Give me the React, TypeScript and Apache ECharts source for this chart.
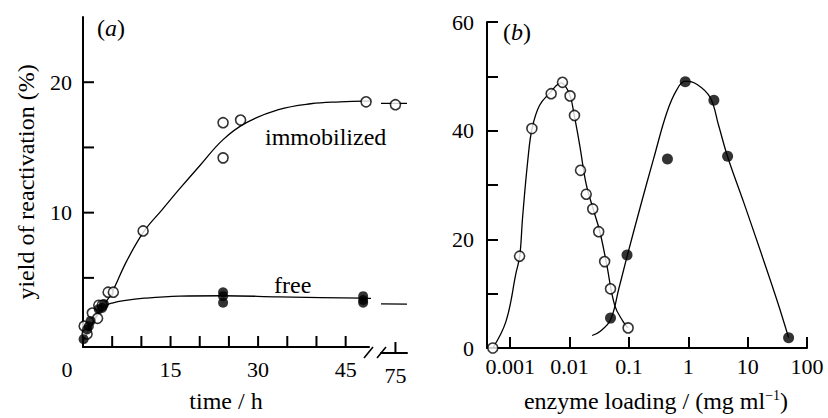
import React, { useEffect, useRef } from 'react';
import * as echarts from 'echarts';

// ---------- Panel (a): yield of reactivation vs time ----------
const timeImmobilized = [0.2, 0.7, 1.6, 2.5, 2.7, 3.3, 4.3, 5.2, 10.3, 24, 24, 27, 48.5, 75];
const yieldImmobilized = [1.3, 0.7, 2.3, 1.9, 2.9, 2.9, 3.9, 3.9, 8.6, 16.9, 14.2, 17.1, 18.5, 18.4];
const timeFree = [0.1, 0.7, 1.0, 1.3, 2.7, 3.3, 3.6, 24, 24, 24, 48, 48, 48];
const yieldFree = [0.3, 1.05, 1.3, 1.7, 2.6, 2.7, 3.0, 3.9, 3.6, 3.1, 3.6, 3.3, 3.1];

// fitted curves (the last points bridge the axis break)
const fitImmobT = [0, 1, 2, 3, 4, 5, 7.5, 10.5, 13.5, 16.5, 20, 24, 28, 33.5, 39, 44, 48, 51, 72.5, 77];
const fitImmobY = [0.2, 1.0, 1.8, 2.6, 3.2, 3.9, 6.3, 8.6, 10.2, 11.8, 13.6, 15.6, 16.9, 17.9, 18.35, 18.5, 18.55, 18.55, 18.5, 18.5];
const fitFreeT = [0, 1, 2, 3, 4, 5, 7, 10.5, 16.5, 24, 33.5, 48, 51, 72.5, 77];
const fitFreeY = [0.2, 1.0, 1.8, 2.5, 2.9, 3.07, 3.25, 3.44, 3.6, 3.63, 3.55, 3.44, 3.43, 3.4, 3.38];

// time axis is broken: first segment 0–49 h, second segment 72.5–77 h
const timeSeg1 = [0, 49];
const timeSeg2 = [72.5, 77];
const yRangeA = [-0.3, 25];
const xTicksA = [5, 10, 15, 20, 25, 30, 35, 40, 45, 75];
const xLabelStepA = 15;
const yTicksA = [5, 10, 15, 20];
const yLabelStepA = 10;

// ---------- Panel (b): yield vs enzyme loading ----------
const loadingOpen = [0.00051, 0.00144, 0.00232, 0.0049, 0.0076, 0.0102, 0.0121, 0.0153, 0.0191, 0.0246, 0.031, 0.039, 0.049, 0.097];
const yieldOpen = [0, 16.9, 40.4, 46.8, 48.9, 46.4, 42.8, 32.7, 28.3, 25.6, 21.4, 15.9, 10.9, 3.7];
const loadingFilled = [0.049, 0.093, 0.446, 0.89, 2.7, 4.6, 49];
const yieldFilled = [5.5, 17.1, 34.8, 49.0, 45.6, 35.3, 1.9];

const fitOpenX = [0.00051, 0.00085, 0.00126, 0.00145, 0.00162, 0.002, 0.00234, 0.0031, 0.0047, 0.0072, 0.01, 0.012, 0.0148, 0.0191, 0.0245, 0.0324, 0.0417, 0.0575, 0.0794, 0.0966];
const fitOpenY = [0, 4.9, 13.9, 16.9, 24.1, 35, 40.4, 44.6, 47, 48.8, 46.7, 42.8, 37.4, 30.1, 25.9, 21.4, 15.7, 7.9, 4.9, 3.7];
const fitFilledX = [0.024, 0.033, 0.049, 0.0676, 0.0933, 0.155, 0.263, 0.437, 0.646, 0.891, 1.41, 2.34, 3.24, 4.57, 8.59, 16.6, 31.6, 49];
const fitFilledY = [2.3, 3.1, 5.2, 10.9, 16.9, 25.9, 35, 43.4, 47.6, 49.1, 48.5, 46.1, 41, 35.3, 26.8, 17.7, 8.6, 1.9];

const loadingRange = [0.000407, 100];
const yRangeB = [0, 60];
const yTickStepB = 10;
const yLabelStepB = 20;

const FONT = 'Liberation Serif';
const INK = '#000';

// layout
const GA1 = { left: 83, top: 17, width: 286, height: 336 };
const GA2 = { left: 381, top: 17, width: 26, height: 336 };
const GB = { left: 487, top: 22, width: 320, height: 333 };

const zip = (xs: number[], ys: number[]) => xs.map((x, i) => [x, ys[i]]);
const isPow10 = (v: number) => {
  const l = Math.log10(v);
  return Math.abs(l - Math.round(l)) < 1e-6;
};

export default function App() {
  const ref = useRef<HTMLDivElement>(null);

  useEffect(() => {
    if (!ref.current) return;
    const chart = echarts.init(ref.current, undefined, { renderer: 'svg' });

    const axisLine = { show: true, onZero: false, lineStyle: { color: INK, width: 2 } };
    const tickStyle = { color: INK, width: 2 };
    const labelBase = { color: INK, fontSize: 22, fontFamily: FONT };
    const nameStyle = { color: INK, fontSize: 24, fontFamily: FONT };

    const openSym = { color: '#fff', borderColor: INK, borderWidth: 1.6 };
    const fillSym = { color: INK, borderColor: INK, borderWidth: 0 };
    const fitLine = { color: INK, width: 1.3 };

    const tickLen = 11;
    const xTickSeries = (xi: number, vals: number[]) => ({
      type: 'custom', xAxisIndex: xi, yAxisIndex: xi, silent: true, clip: false, z: 5,
      data: vals.map((v) => [v, yRangeA[0]]),
      renderItem: (_p: any, api: any) => {
        const p = api.coord([api.value(0), api.value(1)]);
        return { type: 'line', shape: { x1: p[0], y1: p[1], x2: p[0], y2: p[1] - tickLen }, style: { stroke: INK, lineWidth: 2 } };
      },
    });
    const inSeg = (lo: number, hi: number) => (v: number) => v >= lo && v <= hi;

    const scatterA = (xi: number, ts: number[], vs: number[], sym: any, z: number) => ({
      type: 'scatter', xAxisIndex: xi, yAxisIndex: xi, symbol: 'circle', symbolSize: 10, itemStyle: sym, z,
      data: zip(ts, vs).filter((d) => inSeg(xi === 0 ? timeSeg1[0] : timeSeg2[0], xi === 0 ? timeSeg1[1] : timeSeg2[1])(d[0])),
    });

    const option: any = {
      animation: false,
      grid: [GA1, GA2, GB],
      xAxis: [
        {
          type: 'value', gridIndex: 0, min: timeSeg1[0], max: timeSeg1[1], interval: 5,
          axisLine, axisTick: { show: false }, splitLine: { show: false },
          axisLabel: {
            ...labelBase, margin: 11, showMaxLabel: false,
            formatter: (v: number) => (v === 0 ? '{z|0}' : v % xLabelStepA === 0 ? String(v) : ''),
            rich: { z: { ...labelBase, padding: [0, 32, 0, 0] } },
          },
          name: 'time / h', nameLocation: 'middle', nameGap: 42, nameTextStyle: nameStyle,
        },
        {
          type: 'value', gridIndex: 1, min: timeSeg2[0], max: timeSeg2[1], interval: 2.5,
          axisLine, axisTick: { show: false }, splitLine: { show: false },
          axisLabel: { ...labelBase, margin: 11, showMinLabel: false, showMaxLabel: false, formatter: (v: number) => (v === 75 ? '75' : '') },
        },
        {
          type: 'log', gridIndex: 2, logBase: 10, min: loadingRange[0], max: loadingRange[1],
          axisLine,
          axisTick: { show: true, inside: true, length: tickLen, lineStyle: tickStyle },
          minorTick: { show: false }, splitLine: { show: false },
          axisLabel: { ...labelBase, margin: 7, showMinLabel: false, formatter: (v: number) => (isPow10(v) ? String(v) : '') },
          name: 'enzyme loading / (mg ml{sup|−1})', nameLocation: 'middle', nameGap: 40,
          nameTextStyle: {
            ...nameStyle, padding: [0, 0, 0, 18],
            rich: { sup: { color: INK, fontSize: 14, fontFamily: FONT, padding: [0, 0, 12, 0] } },
          },
        },
      ],
      yAxis: [
        {
          type: 'value', gridIndex: 0, min: yRangeA[0], max: yRangeA[1],
          axisLine, axisTick: { show: false }, splitLine: { show: false },
          axisLabel: { show: false },
          name: 'yield of reactivation (%)', nameLocation: 'middle', nameGap: 45, nameRotate: 90, nameTextStyle: nameStyle,
        },
        {
          type: 'value', gridIndex: 1, min: yRangeA[0], max: yRangeA[1], show: false,
        },
        {
          type: 'value', gridIndex: 2, min: yRangeB[0], max: yRangeB[1], interval: yTickStepB,
          axisLine,
          axisTick: { show: true, inside: true, length: tickLen, lineStyle: tickStyle },
          splitLine: { show: false },
          axisLabel: { ...labelBase, margin: 13, formatter: (v: number) => (v % yLabelStepB === 0 ? String(v) : '') },
        },
      ],
      series: [
        // panel (a), first segment
        { type: 'line', xAxisIndex: 0, yAxisIndex: 0, data: zip(fitImmobT, fitImmobY).filter((d) => d[0] <= 51), smooth: 0.4, showSymbol: false, clip: false, lineStyle: fitLine, z: 2 },
        { type: 'line', xAxisIndex: 0, yAxisIndex: 0, data: zip(fitFreeT, fitFreeY).filter((d) => d[0] <= 51), smooth: 0.4, showSymbol: false, clip: false, lineStyle: fitLine, z: 2 },
        scatterA(0, timeImmobilized, yieldImmobilized, openSym, 3),
        scatterA(0, timeFree, yieldFree, fillSym, 4),
        // panel (a), second segment
        { type: 'line', xAxisIndex: 1, yAxisIndex: 1, data: zip(fitImmobT, fitImmobY).filter((d) => d[0] >= timeSeg2[0]), showSymbol: false, lineStyle: fitLine, z: 2 },
        { type: 'line', xAxisIndex: 1, yAxisIndex: 1, data: zip(fitFreeT, fitFreeY).filter((d) => d[0] >= timeSeg2[0]), showSymbol: false, lineStyle: fitLine, z: 2 },
        scatterA(1, timeImmobilized, yieldImmobilized, openSym, 3),
        scatterA(1, timeFree, yieldFree, fillSym, 4),
        // panel (a) ticks and y labels, through the axes' scales
        xTickSeries(0, xTicksA.filter(inSeg(timeSeg1[0], timeSeg1[1]))),
        xTickSeries(1, xTicksA.filter(inSeg(timeSeg2[0], timeSeg2[1]))),
        {
          type: 'custom', xAxisIndex: 0, yAxisIndex: 0, silent: true, clip: false, z: 5,
          data: yTicksA.map((v) => [timeSeg1[0], v]),
          renderItem: (_p: any, api: any) => {
            const v = api.value(1);
            const p = api.coord([api.value(0), v]);
            const children: any[] = [
              { type: 'line', shape: { x1: p[0], y1: p[1], x2: p[0] + tickLen, y2: p[1] }, style: { stroke: INK, lineWidth: 2 } },
            ];
            if (v % yLabelStepA === 0) {
              children.push({
                type: 'text', x: p[0] - 11, y: p[1],
                style: { text: String(v), fill: INK, fontSize: 22, fontFamily: FONT, align: 'right', verticalAlign: 'middle' },
              });
            }
            return { type: 'group', children };
          },
        },
        // panel (b)
        { type: 'line', xAxisIndex: 2, yAxisIndex: 2, data: zip(fitOpenX, fitOpenY), smooth: 0.4, showSymbol: false, lineStyle: fitLine, z: 2 },
        { type: 'line', xAxisIndex: 2, yAxisIndex: 2, data: zip(fitFilledX, fitFilledY), smooth: 0.4, showSymbol: false, lineStyle: fitLine, z: 2 },
        { type: 'scatter', xAxisIndex: 2, yAxisIndex: 2, data: zip(loadingOpen, yieldOpen), symbol: 'circle', symbolSize: 10, itemStyle: openSym, z: 3 },
        { type: 'scatter', xAxisIndex: 2, yAxisIndex: 2, data: zip(loadingFilled, yieldFilled), symbol: 'circle', symbolSize: 11, itemStyle: fillSym, z: 4 },
      ],
      graphic: [
        {
          type: 'text', x: 97, y: 28,
          style: { text: '({i|a})', fill: INK, fontSize: 24, fontFamily: FONT, verticalAlign: 'middle', rich: { i: { fontStyle: 'italic', fontSize: 24, fontFamily: FONT, fill: INK } } },
        },
        {
          type: 'text', x: 503, y: 32,
          style: { text: '({i|b})', fill: INK, fontSize: 24, fontFamily: FONT, verticalAlign: 'middle', rich: { i: { fontStyle: 'italic', fontSize: 24, fontFamily: FONT, fill: INK } } },
        },
        { type: 'text', x: 265, y: 137, style: { text: 'immobilized', fill: INK, fontSize: 24, fontFamily: FONT, verticalAlign: 'middle' } },
        { type: 'text', x: 274, y: 285, style: { text: 'free', fill: INK, fontSize: 24, fontFamily: FONT, verticalAlign: 'middle' } },
        // axis-break slashes at the segment ends
        { type: 'line', shape: { x1: GA1.left + GA1.width - 5, y1: GA1.top + GA1.height + 5, x2: GA1.left + GA1.width + 4, y2: GA1.top + GA1.height - 6 }, style: { stroke: INK, lineWidth: 1.6 } },
        { type: 'line', shape: { x1: GA2.left - 4, y1: GA2.top + GA2.height + 5, x2: GA2.left + 5, y2: GA2.top + GA2.height - 6 }, style: { stroke: INK, lineWidth: 1.6 } },
      ],
    };

    chart.setOption(option);
    return () => chart.dispose();
  }, []);

  return (
    <div
      ref={ref}
      style={{ position: 'fixed', left: 0, top: 0, width: 828, height: 418, background: '#fff' }}
    />
  );
}
